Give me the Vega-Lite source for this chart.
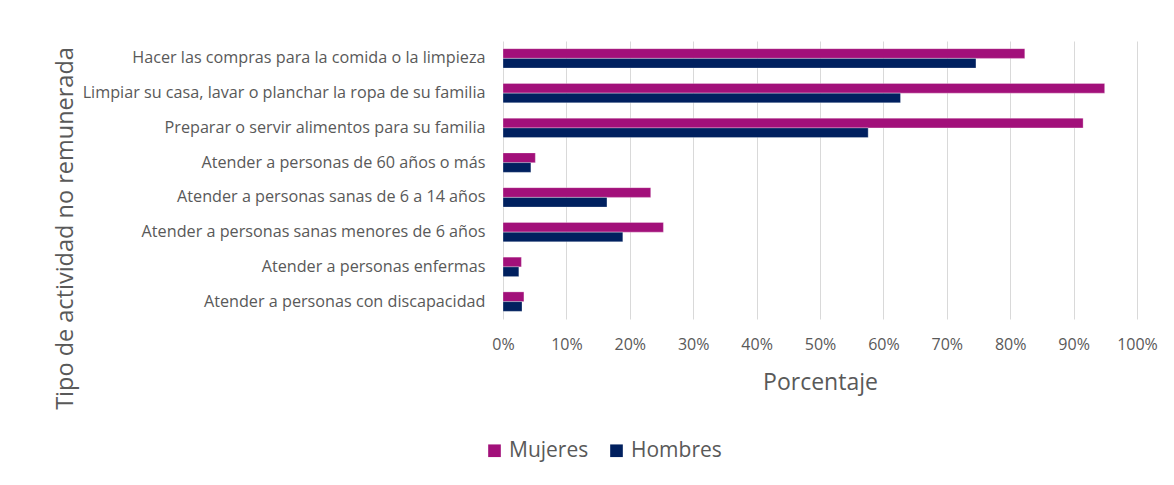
{
  "$schema": "https://vega.github.io/schema/vega-lite/v6.json",
  "autosize": {"type": "none"},
  "padding": {"left": 503, "top": 41, "right": 37, "bottom": 166},
  "width": 634,
  "height": 278,
  "background": "#ffffff",
  "data": {
    "values": [
      {"actividad": "Hacer las compras para la comida o la limpieza", "sexo": "Mujeres", "pct": 82.3},
      {"actividad": "Hacer las compras para la comida o la limpieza", "sexo": "Hombres", "pct": 74.6},
      {"actividad": "Limpiar su casa, lavar o planchar la ropa de su familia", "sexo": "Mujeres", "pct": 94.9},
      {"actividad": "Limpiar su casa, lavar o planchar la ropa de su familia", "sexo": "Hombres", "pct": 62.7},
      {"actividad": "Preparar o servir alimentos para su familia", "sexo": "Mujeres", "pct": 91.5},
      {"actividad": "Preparar o servir alimentos para su familia", "sexo": "Hombres", "pct": 57.6},
      {"actividad": "Atender a personas de 60 años o más", "sexo": "Mujeres", "pct": 5.1},
      {"actividad": "Atender a personas de 60 años o más", "sexo": "Hombres", "pct": 4.4},
      {"actividad": "Atender a personas sanas de 6 a 14 años", "sexo": "Mujeres", "pct": 23.3},
      {"actividad": "Atender a personas sanas de 6 a 14 años", "sexo": "Hombres", "pct": 16.4},
      {"actividad": "Atender a personas sanas menores de 6 años", "sexo": "Mujeres", "pct": 25.3},
      {"actividad": "Atender a personas sanas menores de 6 años", "sexo": "Hombres", "pct": 18.9},
      {"actividad": "Atender a personas enfermas", "sexo": "Mujeres", "pct": 2.9},
      {"actividad": "Atender a personas enfermas", "sexo": "Hombres", "pct": 2.5},
      {"actividad": "Atender a personas con discapacidad", "sexo": "Mujeres", "pct": 3.3},
      {"actividad": "Atender a personas con discapacidad", "sexo": "Hombres", "pct": 3.0}
    ]
  },
  "mark": {"type": "bar", "stroke": "#ffffff", "strokeWidth": 0.5, "strokeOpacity": 0.6},
  "encoding": {
    "y": {
      "field": "actividad",
      "type": "nominal",
      "sort": null,
      "scale": {"paddingInner": 0.44, "paddingOuter": 0.22},
      "axis": {
        "title": "Tipo de actividad no remunerada",
        "titleFont": "Open Sans",
        "titleFontSize": 23.5,
        "titleFontWeight": "normal",
        "titleColor": "#595959",
        "titleAngle": -90,
        "titleX": -438,
        "titleY": 187,
        "titleAlign": "center",
        "titleBaseline": "middle",
        "labelFont": "Open Sans",
        "labelFontSize": 16.2,
        "labelColor": "#595959",
        "labelPadding": 18,
        "labelLimit": 500,
        "domain": false,
        "ticks": false
      }
    },
    "yOffset": {
      "field": "sexo",
      "type": "nominal",
      "sort": ["Mujeres", "Hombres"]
    },
    "x": {
      "field": "pct",
      "type": "quantitative",
      "scale": {"domain": [0, 100], "nice": false},
      "axis": {
        "title": "Porcentaje",
        "titleFont": "Open Sans",
        "titleFontSize": 23,
        "titleFontWeight": "normal",
        "titleColor": "#595959",
        "titleY": 63,
        "titleBaseline": "middle",
        "values": [0, 10, 20, 30, 40, 50, 60, 70, 80, 90, 100],
        "labelExpr": "datum.value + '%'",
        "labelFont": "Open Sans",
        "labelFontSize": 16,
        "labelColor": "#595959",
        "labelPadding": 17,
        "labelFlush": false,
        "domain": false,
        "ticks": false,
        "grid": true,
        "gridColor": "#D9D9D9",
        "gridWidth": 1
      }
    },
    "color": {
      "field": "sexo",
      "type": "nominal",
      "sort": ["Mujeres", "Hombres"],
      "scale": {"domain": ["Mujeres", "Hombres"], "range": ["#A2107A", "#00205F"]},
      "legend": {
        "title": null,
        "orient": "none",
        "direction": "horizontal",
        "legendX": -19,
        "legendY": 399,
        "symbolType": "square",
        "symbolSize": 160,
        "symbolStrokeWidth": 0,
        "labelFont": "Open Sans",
        "labelFontSize": 21,
        "labelColor": "#595959",
        "labelOffset": 4,
        "columnPadding": 17
      }
    }
  },
  "config": {
    "view": {"stroke": null},
    "axis": {"gridOpacity": 1}
  }
}
